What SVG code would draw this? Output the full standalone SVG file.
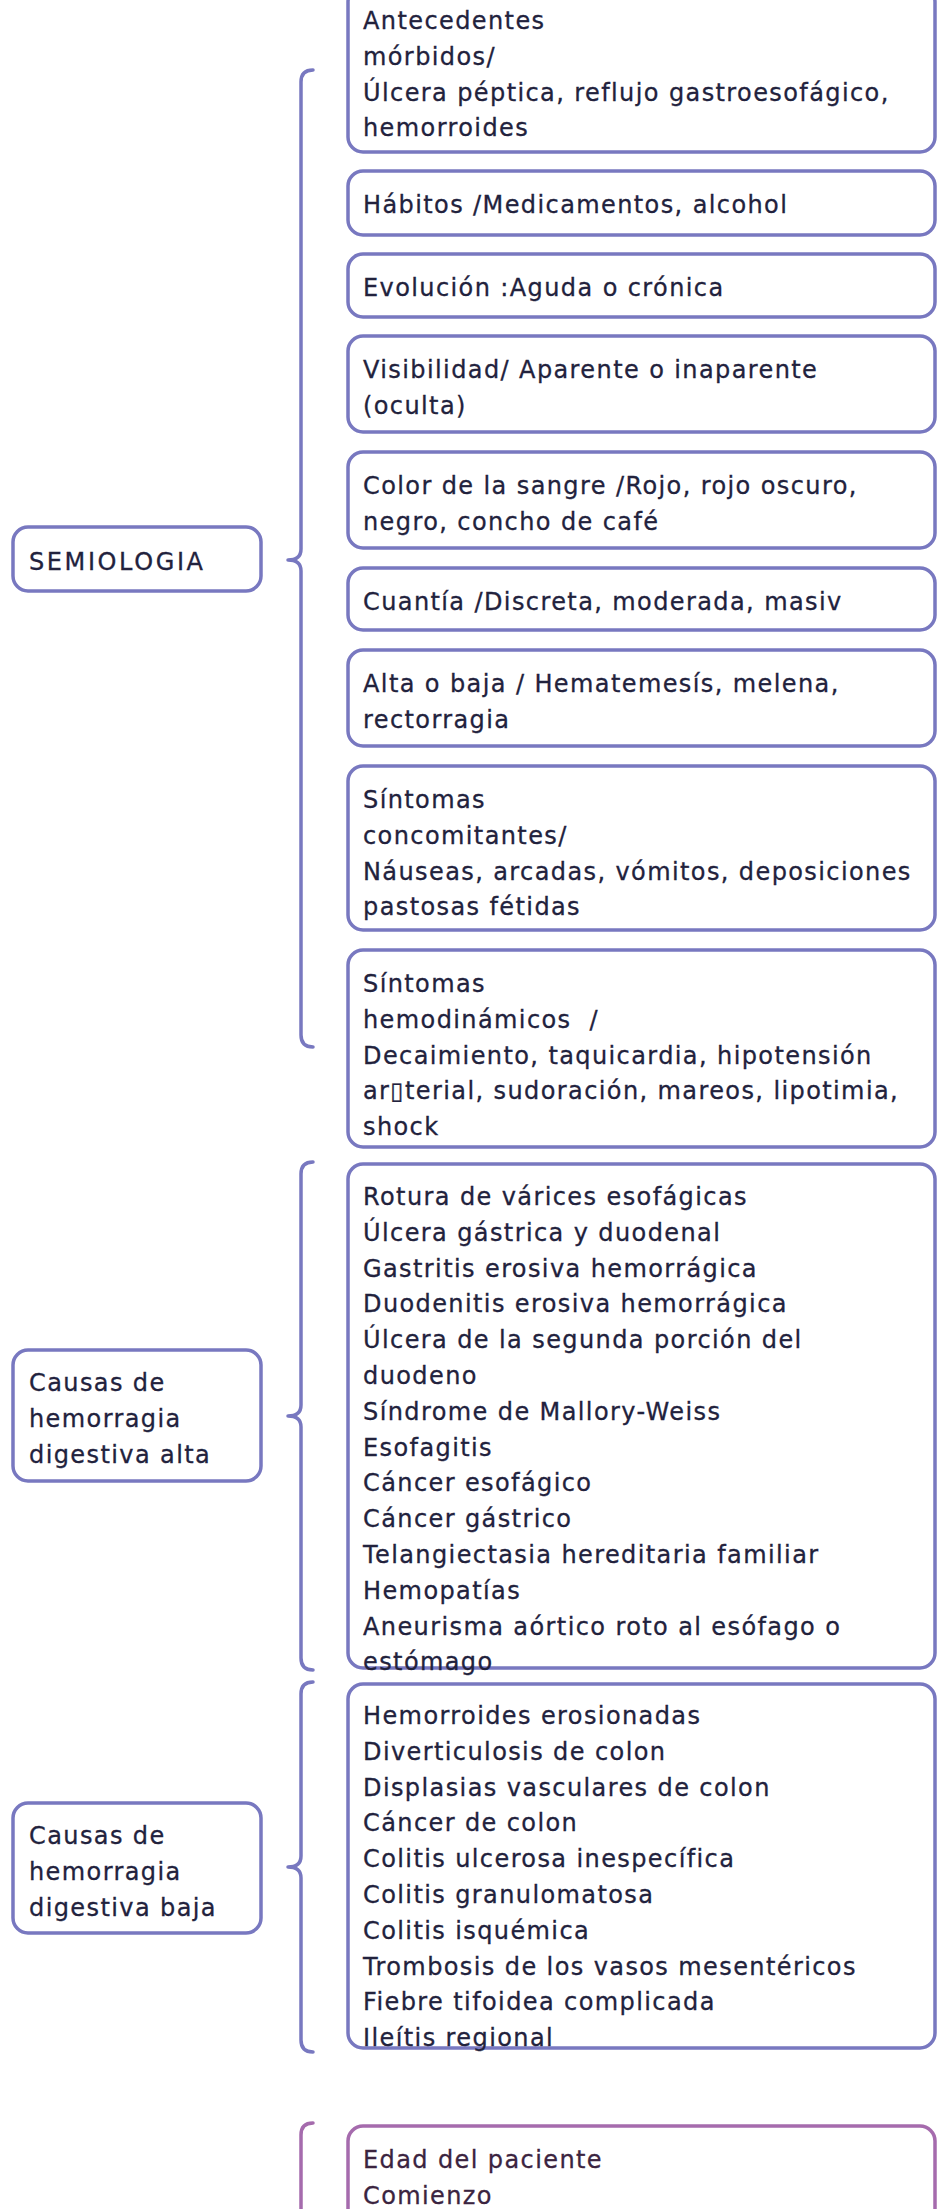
<svg xmlns="http://www.w3.org/2000/svg" width="937" height="2209" viewBox="0 0 937 2209">
<style>
.bg{fill:#ffffff}
.box{fill:#ffffff;stroke:#7878c0;stroke-width:3.5}
.boxm{fill:#ffffff;stroke:#a56bad;stroke-width:3.5}
.br{fill:none;stroke:#7878c0;stroke-width:3.5;stroke-linecap:round;stroke-linejoin:round}
.brm{fill:none;stroke:#a56bad;stroke-width:3.5;stroke-linecap:round;stroke-linejoin:round}
text{font-family:"DejaVu Sans","Noto Sans",sans-serif;font-size:24px;letter-spacing:1.4px;fill:#22223d;stroke:#22223d;stroke-width:0.3px;white-space:pre}
.tm{fill:#3b2440;stroke:#3b2440}
.wide{letter-spacing:2.6px}
</style>
<rect class="bg" x="0" y="0" width="937" height="2209"/>
<g id="connectors">
<path class="br" d="M313,70 Q301,70 301,82 L301,549 Q301,560 288,560 Q301,560 301,571 L301,1035 Q301,1047 313,1047"/>
<path class="br" d="M313,1162 Q301,1162 301,1174 L301,1405 Q301,1416 288,1416 Q301,1416 301,1427 L301,1658 Q301,1670 313,1670"/>
<path class="br" d="M313,1682 Q301,1682 301,1694 L301,1856 Q301,1867 288,1867 Q301,1867 301,1878 L301,2040 Q301,2052 313,2052"/>
<path class="brm" d="M313,2123 Q301,2123 301,2135 L301,2230"/>
</g>
<g id="semiologia">
<rect class="box" x="13" y="527" width="248" height="64" rx="15"/>
<text class="wide" x="29" y="570">SEMIOLOGIA</text>
</g>
<g id="antecedentes">
<rect class="box" x="348" y="-13" width="587" height="165" rx="15"/>
<text x="363" y="29">Antecedentes</text>
<text x="363" y="64.8">mórbidos/</text>
<text x="363" y="100.6">Úlcera péptica, reflujo gastroesofágico,</text>
<text x="363" y="136.4">hemorroides</text>
</g>
<g id="habitos">
<rect class="box" x="348" y="171" width="587" height="64" rx="15"/>
<text x="363" y="213">Hábitos /Medicamentos, alcohol</text>
</g>
<g id="evolucion">
<rect class="box" x="348" y="254" width="587" height="63" rx="15"/>
<text x="363" y="296">Evolución :Aguda o crónica</text>
</g>
<g id="visibilidad">
<rect class="box" x="348" y="336" width="587" height="96" rx="15"/>
<text x="363" y="378">Visibilidad/ Aparente o inaparente</text>
<text x="363" y="413.8">(oculta)</text>
</g>
<g id="color">
<rect class="box" x="348" y="452" width="587" height="96" rx="15"/>
<text x="363" y="494">Color de la sangre /Rojo, rojo oscuro,</text>
<text x="363" y="529.8">negro, concho de café</text>
</g>
<g id="cuantia">
<rect class="box" x="348" y="568" width="587" height="62" rx="15"/>
<text x="363" y="610">Cuantía /Discreta, moderada, masiv</text>
</g>
<g id="alta-baja">
<rect class="box" x="348" y="650" width="587" height="96" rx="15"/>
<text x="363" y="692">Alta o baja / Hematemesís, melena,</text>
<text x="363" y="727.8">rectorragia</text>
</g>
<g id="concomitantes">
<rect class="box" x="348" y="766" width="587" height="164" rx="15"/>
<text x="363" y="808">Síntomas</text>
<text x="363" y="843.8">concomitantes/</text>
<text x="363" y="879.6">Náuseas, arcadas, vómitos, deposiciones</text>
<text x="363" y="915.4">pastosas fétidas</text>
</g>
<g id="hemodinamicos">
<rect class="box" x="348" y="950" width="587" height="197" rx="15"/>
<text x="363" y="992">Síntomas</text>
<text x="363" y="1027.8">hemodinámicos  /</text>
<text x="363" y="1063.6">Decaimiento, taquicardia, hipotensión</text>
<text x="363" y="1099.4">ar▯terial, sudoración, mareos, lipotimia,</text>
<text x="363" y="1135.2">shock</text>
</g>
<g id="causas-alta">
<rect class="box" x="13" y="1350" width="248" height="131" rx="15"/>
<text x="29" y="1391">Causas de</text>
<text x="29" y="1427">hemorragia</text>
<text x="29" y="1463">digestiva alta</text>
</g>
<g id="lista-alta">
<rect class="box" x="348" y="1164" width="587" height="504" rx="15"/>
<text x="363" y="1205">Rotura de várices esofágicas</text>
<text x="363" y="1240.8">Úlcera gástrica y duodenal</text>
<text x="363" y="1276.6">Gastritis erosiva hemorrágica</text>
<text x="363" y="1312.4">Duodenitis erosiva hemorrágica</text>
<text x="363" y="1348.2">Úlcera de la segunda porción del</text>
<text x="363" y="1384">duodeno</text>
<text x="363" y="1419.8">Síndrome de Mallory-Weiss</text>
<text x="363" y="1455.6">Esofagitis</text>
<text x="363" y="1491.4">Cáncer esofágico</text>
<text x="363" y="1527.2">Cáncer gástrico</text>
<text x="363" y="1563">Telangiectasia hereditaria familiar</text>
<text x="363" y="1598.8">Hemopatías</text>
<text x="363" y="1634.6">Aneurisma aórtico roto al esófago o</text>
<text x="363" y="1670.4">estómago</text>
</g>
<g id="causas-baja">
<rect class="box" x="13" y="1803" width="248" height="130" rx="15"/>
<text x="29" y="1844">Causas de</text>
<text x="29" y="1880">hemorragia</text>
<text x="29" y="1916">digestiva baja</text>
</g>
<g id="lista-baja">
<rect class="box" x="348" y="1684" width="587" height="364" rx="15"/>
<text x="363" y="1724">Hemorroides erosionadas</text>
<text x="363" y="1759.8">Diverticulosis de colon</text>
<text x="363" y="1795.6">Displasias vasculares de colon</text>
<text x="363" y="1831.4">Cáncer de colon</text>
<text x="363" y="1867.2">Colitis ulcerosa inespecífica</text>
<text x="363" y="1903">Colitis granulomatosa</text>
<text x="363" y="1938.8">Colitis isquémica</text>
<text x="363" y="1974.6">Trombosis de los vasos mesentéricos</text>
<text x="363" y="2010.4">Fiebre tifoidea complicada</text>
<text x="363" y="2046.2">Ileítis regional</text>
</g>
<g id="edad">
<rect class="boxm" x="348" y="2126" width="587" height="200" rx="15"/>
<text class="tm" x="363" y="2168">Edad del paciente</text>
<text class="tm" x="363" y="2203.8">Comienzo</text>
</g>
</svg>
